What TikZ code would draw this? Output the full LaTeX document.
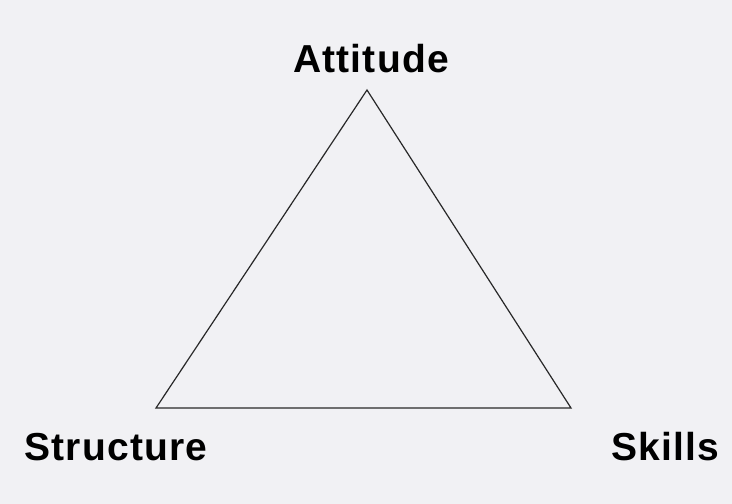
\documentclass[tikz,border=0pt]{standalone}
\usepackage{fontspec}
\setmainfont{Liberation Sans}[LetterSpace=3]
\usepackage{tikz}
\usetikzlibrary{
    positioning,
    calc
}

\definecolor{bgpaper}{RGB}{241,241,244}
\definecolor{edgegray}{RGB}{40,40,40}

\begin{document}
\begin{tikzpicture}[
    x=1pt, y=-1pt,
    every node/.style={font=\fontsize{39}{46}\selectfont\bfseries, inner sep=0pt},
    corner/.style={anchor=base},
    side/.style={draw=edgegray, line width=1.2pt, line join=miter}
]

% ---------- Background ----------
\fill[bgpaper] (0,0) rectangle (732,504);
\useasboundingbox (0,0) rectangle (732,504);

% ---------- Corners of the triangle ----------
\coordinate (top)   at (367,90);
\coordinate (left)  at (156,408);
\coordinate (right) at (571,408);

% ---------- Labels ----------
\node[corner] (attitude)  at (371,72)  {Attitude};
\node[corner] (structure) at (116,460) {Structure};
\node[corner] (skills)    at (665,460) {Skills};

% ---------- Triangle ----------
\draw[side] (top) -- (right) -- (left) -- cycle;

\end{tikzpicture}
\end{document}
